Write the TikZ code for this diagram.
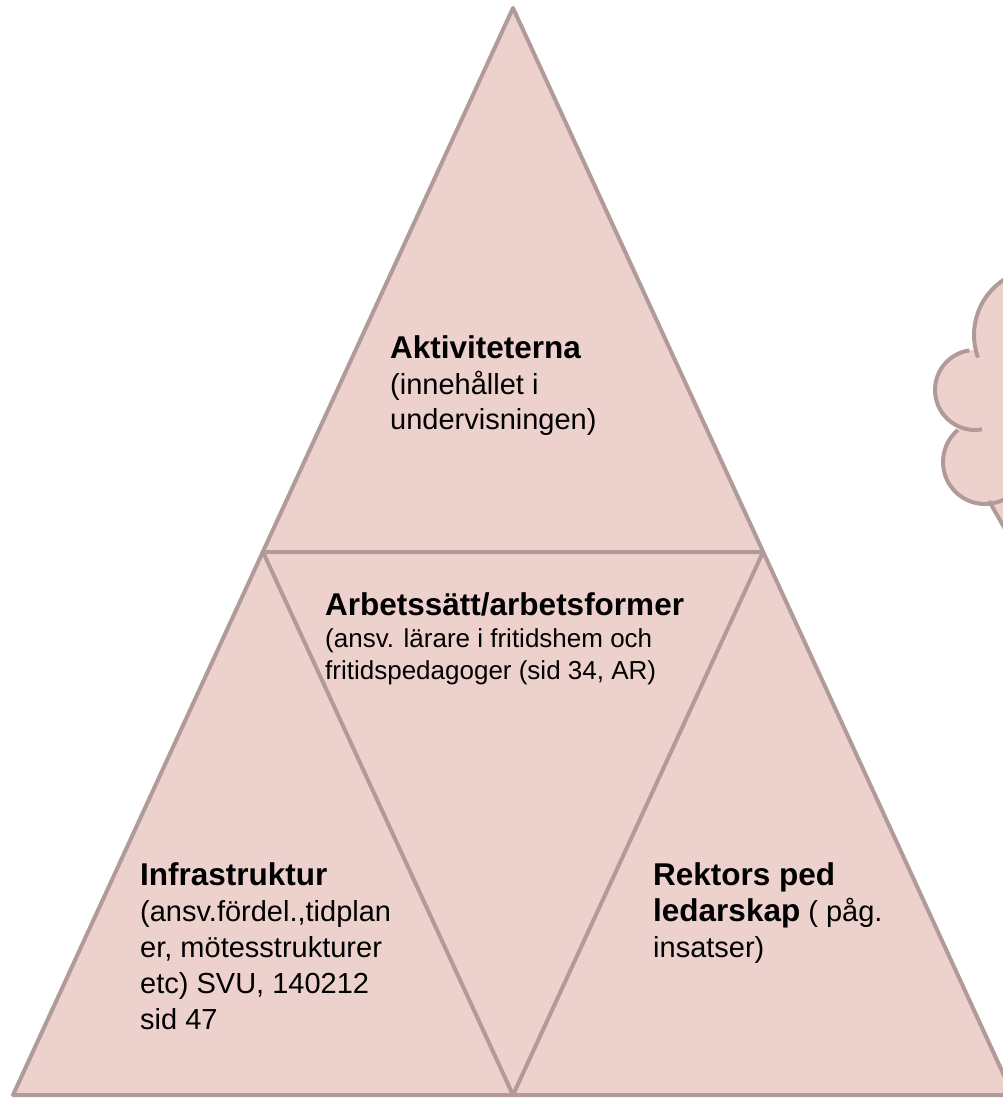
\documentclass[tikz,border=0pt]{standalone}
\usepackage{fontspec}
\setmainfont{Liberation Sans}
\definecolor{rosa}{HTML}{EDD1CD}
\definecolor{kant}{HTML}{B19B98}

\begin{document}
\begin{tikzpicture}[x=1pt,y=-1pt,
  yta/.style={fill=rosa,draw=kant,line width=4pt,line join=round},
  linje/.style={draw=kant,line width=4pt,line join=round},
  txt/.style={anchor=base west,inner sep=0pt,align=left,font=\fontsize{29}{36}\selectfont}]
\useasboundingbox (0,0) rectangle (1003,1098);
\clip (0,0) rectangle (1003,1098);
% triangeln
\draw[yta] (513,8) -- (13,1095) -- (1013,1095) -- cycle;
\draw[linje] (263,552) -- (763,552) -- (513,1095) -- cycle;
% molnet
\fill[rosa] (1040,335) circle (66);
\fill[rosa] (975,390) circle (40);
\fill[rosa] (985,462) circle (42);
\fill[rosa] (985,295) rectangle (1010,495);
\fill[rosa] (985,495) -- (1015,545) -- (1015,495) -- cycle;
\draw[linje] (1040,335) ++(260:66) arc[start angle=260,end angle=160,radius=66];
\draw[linje] (975,390) ++(262:40) arc[start angle=262,end angle=80,radius=40];
\draw[linje] (985,462) ++(230:42) arc[start angle=230,end angle=55,radius=42];
\draw[linje] (989,501) -- (1012,541);
% texter (ankare = sista radens baslinje)
\node[txt,font=\fontsize{29}{35}\selectfont] (akt) at (390,429) {{\fontsize{31.5}{32}\selectfont\bfseries Aktiviteterna}\\[1pt](innehållet i\\undervisningen)};
\node[txt,font=\fontsize{26}{32}\selectfont] (arb) at (325,679) {{\fontsize{31.5}{32}\selectfont\bfseries Arbetssätt/arbetsformer}\\(ansv. lärare i fritidshem och\\fritidspedagoger (sid 34, AR)};
\node[txt] (infra) at (140,1029) {{\fontsize{31.5}{32}\selectfont\bfseries Infrastruktur}\\(ansv.fördel.,tidplan\\er, mötesstrukturer\\etc) SVU, 140212\\sid 47};
\node[txt] (rektor) at (653,957) {{\fontsize{31.5}{32}\selectfont\bfseries Rektors ped}\\{\fontsize{31.5}{32}\selectfont\bfseries ledarskap} ( påg.\\insatser)};
\end{tikzpicture}
\end{document}
